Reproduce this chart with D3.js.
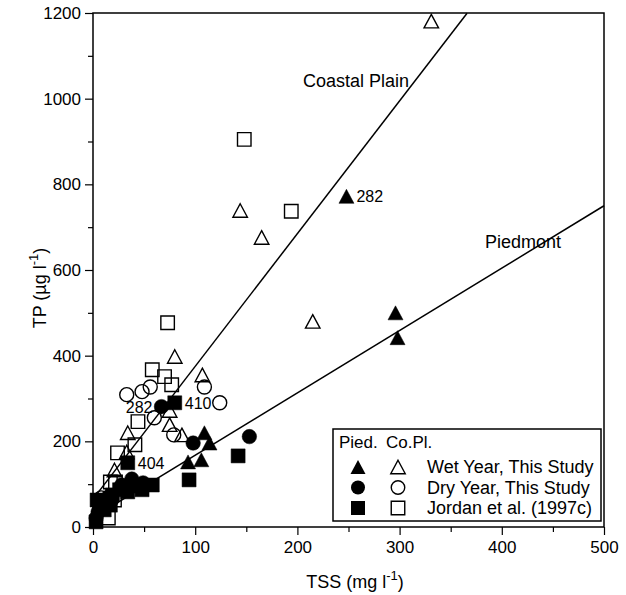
<!DOCTYPE html>
<html>
<head>
<meta charset="utf-8">
<script src="https://cdn.jsdelivr.net/npm/d3@7"></script>
<style>
  body { margin: 0; background: #fff; }
  text { font-family: Arial, "Liberation Sans", Helvetica, sans-serif; fill: #000; }
</style>
</head>
<body>
<svg id="chart" width="626" height="595"></svg>
<script>
// values: [TSS mg/l, TP ug/l]
var pdWet = [[248,772],[296,500],[298,442],[109,220],[114,196],[93,152],[106,157]];
var cpWet = [[331,1181],[144,739],[165,676],[215,480],[80,398],[107,355],[75,239],[87,215],[34,220],[21,133],[75,272],[33,175],[9,58]];
var pdDry = [[67,281],[98,196],[153,211],[38,112],[49,103],[28,98],[5,35],[3,21],[10,60],[15,70],[7,48]];
var cpDry = [[33,309],[48,316],[56,327],[109,327],[124,290],[60,255],[79,215],[8,68],[18,63]];
var pdJordan = [[80,290],[34,150],[142,166],[94,110],[58,98],[48,87],[34,82],[26,87],[19,75],[4,63],[11,40],[17,51],[3,12],[40,96]];
var cpJordan = [[148,905],[194,737],[73,477],[58,367],[70,351],[77,332],[44,246],[41,192],[24,173],[17,105],[22,105],[15,21],[21,63]];

// fitted lines TP = a + b*TSS
var fits = [
  {name: 'Coastal Plain', a: 65, b: 3.1, x0: 0, x1: 366},
  {name: 'Piedmont', a: 22, b: 1.456, x0: 0, x1: 500}
];

// numbered samples
var notes = [[248,772,'282','start'],[67,281,'282','end'],[80,290,'410','start'],[34,150,'404','start']];

var xTicks = [0,100,200,300,400,500];
var xMinor = [50,150,250,350,450];
var yTicks = [0,200,400,600,800,1000,1200];
var yMinor = [100,300,500,700,900,1100];

var svg = d3.select('#chart');
var x = d3.scaleLinear().domain([0,500]).range([93,604]);
var y = d3.scaleLinear().domain([0,1200]).range([527,13]);

// frame
svg.append('rect')
  .attr('x', 93).attr('y', 13).attr('width', 511).attr('height', 514)
  .attr('fill', 'none').attr('stroke', '#000').attr('stroke-width', 1.5);

svg.append('g').attr('transform', 'translate(93,0)')
  .call(d3.axisLeft(y).tickValues(yTicks).tickSize(8).tickPadding(4).tickFormat(d3.format('d')));
svg.append('g').attr('transform', 'translate(93,0)')
  .call(d3.axisLeft(y).tickValues(yMinor).tickSize(5).tickFormat(''));
svg.append('g').attr('transform', 'translate(0,527)')
  .call(d3.axisBottom(x).tickValues(xTicks).tickSize(8).tickPadding(6).tickFormat(d3.format('d')));
svg.append('g').attr('transform', 'translate(0,527)')
  .call(d3.axisBottom(x).tickValues(xMinor).tickSize(5).tickFormat(''));
svg.selectAll('.domain').remove();
svg.selectAll('.tick line').attr('stroke', '#000').attr('stroke-width', 1.2);
svg.selectAll('.tick text').attr('font-size', 17).attr('font-family', 'Arial, "Liberation Sans", sans-serif');

// axis titles
var xt = svg.append('text').attr('x', 355).attr('y', 588).attr('text-anchor', 'middle').attr('font-size', 18);
xt.append('tspan').text('TSS (mg l');
xt.append('tspan').attr('dy', -8).attr('font-size', 13).text('-1');
xt.append('tspan').attr('dy', 8).text(')');

var yt = svg.append('text').attr('transform', 'translate(46,288) rotate(-90)').attr('text-anchor', 'middle').attr('font-size', 18);
yt.append('tspan').text('TP (\u00b5g l');
yt.append('tspan').attr('dy', -8).attr('font-size', 13).text('-1');
yt.append('tspan').attr('dy', 8).text(')');

// regression lines
svg.selectAll('line.fit').data(fits).enter().append('line')
  .attr('class', 'fit')
  .attr('x1', function(d) { return x(d.x0); })
  .attr('y1', function(d) { return y(d.a + d.b*d.x0); })
  .attr('x2', function(d) { return x(d.x1); })
  .attr('y2', function(d) { return y(d.a + d.b*d.x1); })
  .attr('stroke', '#000').attr('stroke-width', 1.5);

svg.append('text').attr('x', 303).attr('y', 87).attr('font-size', 18).text('Coastal Plain');
svg.append('text').attr('x', 485).attr('y', 248).attr('font-size', 18).text('Piedmont');

// markers
function tri(s) { var h = s/2; return 'M0,' + (-h) + 'L' + (h+0.5) + ',' + h + 'L' + (-h-0.5) + ',' + h + 'Z'; }
function sq(s) { var h = s/2; return 'M' + (-h) + ',' + (-h) + 'h' + s + 'v' + s + 'h' + (-s) + 'Z'; }
function circ(s) { var r = s/2; return 'M' + (-r) + ',0a' + r + ',' + r + ' 0 1,0 ' + (2*r) + ',0a' + r + ',' + r + ' 0 1,0 ' + (-2*r) + ',0Z'; }

function draw(data, shape, size, filled) {
  svg.append('g').selectAll('path').data(data).enter().append('path')
    .attr('transform', function(d) { return 'translate(' + x(d[0]) + ',' + y(d[1]) + ')'; })
    .attr('d', shape(size))
    .attr('fill', filled ? '#000' : 'none')
    .attr('stroke', '#000')
    .attr('stroke-width', filled ? 0.5 : 1.4);
}

draw(cpJordan, sq, 13.5, false);
draw(cpDry, circ, 14, false);
draw(cpWet, tri, 13.5, false);
draw(pdJordan, sq, 14, true);
draw(pdDry, circ, 14.5, true);
draw(pdWet, tri, 14, true);

svg.selectAll('text.note').data(notes).enter().append('text')
  .attr('class', 'note')
  .attr('x', function(d) { return x(d[0]) + (d[3] === 'start' ? 10 : -9); })
  .attr('y', function(d) { return y(d[1]) + 6; })
  .attr('text-anchor', function(d) { return d[3]; })
  .attr('font-size', 16)
  .text(function(d) { return d[2]; });

// legend
var leg = svg.append('g');
leg.append('rect').attr('x', 333).attr('y', 429).attr('width', 268).attr('height', 92)
  .attr('fill', '#fff').attr('stroke', '#000').attr('stroke-width', 1.5);
leg.append('text').attr('x', 339).attr('y', 448).attr('font-size', 17).text('Pied.');
leg.append('text').attr('x', 386).attr('y', 448).attr('font-size', 17).text('Co.Pl.');
var rows = [
  {label: 'Wet Year, This Study', shape: tri},
  {label: 'Dry Year, This Study', shape: circ},
  {label: 'Jordan et al. (1997c)', shape: sq}
];
rows.forEach(function(r, i) {
  var cy = 467 + i*20.5;
  leg.append('path').attr('transform', 'translate(358,' + cy + ')').attr('d', r.shape(14)).attr('fill', '#000');
  leg.append('path').attr('transform', 'translate(398,' + cy + ')').attr('d', r.shape(13.5))
    .attr('fill', 'none').attr('stroke', '#000').attr('stroke-width', 1.4);
  leg.append('text').attr('x', 427).attr('y', cy + 6).attr('font-size', 18).text(r.label);
});
</script>
</body>
</html>
